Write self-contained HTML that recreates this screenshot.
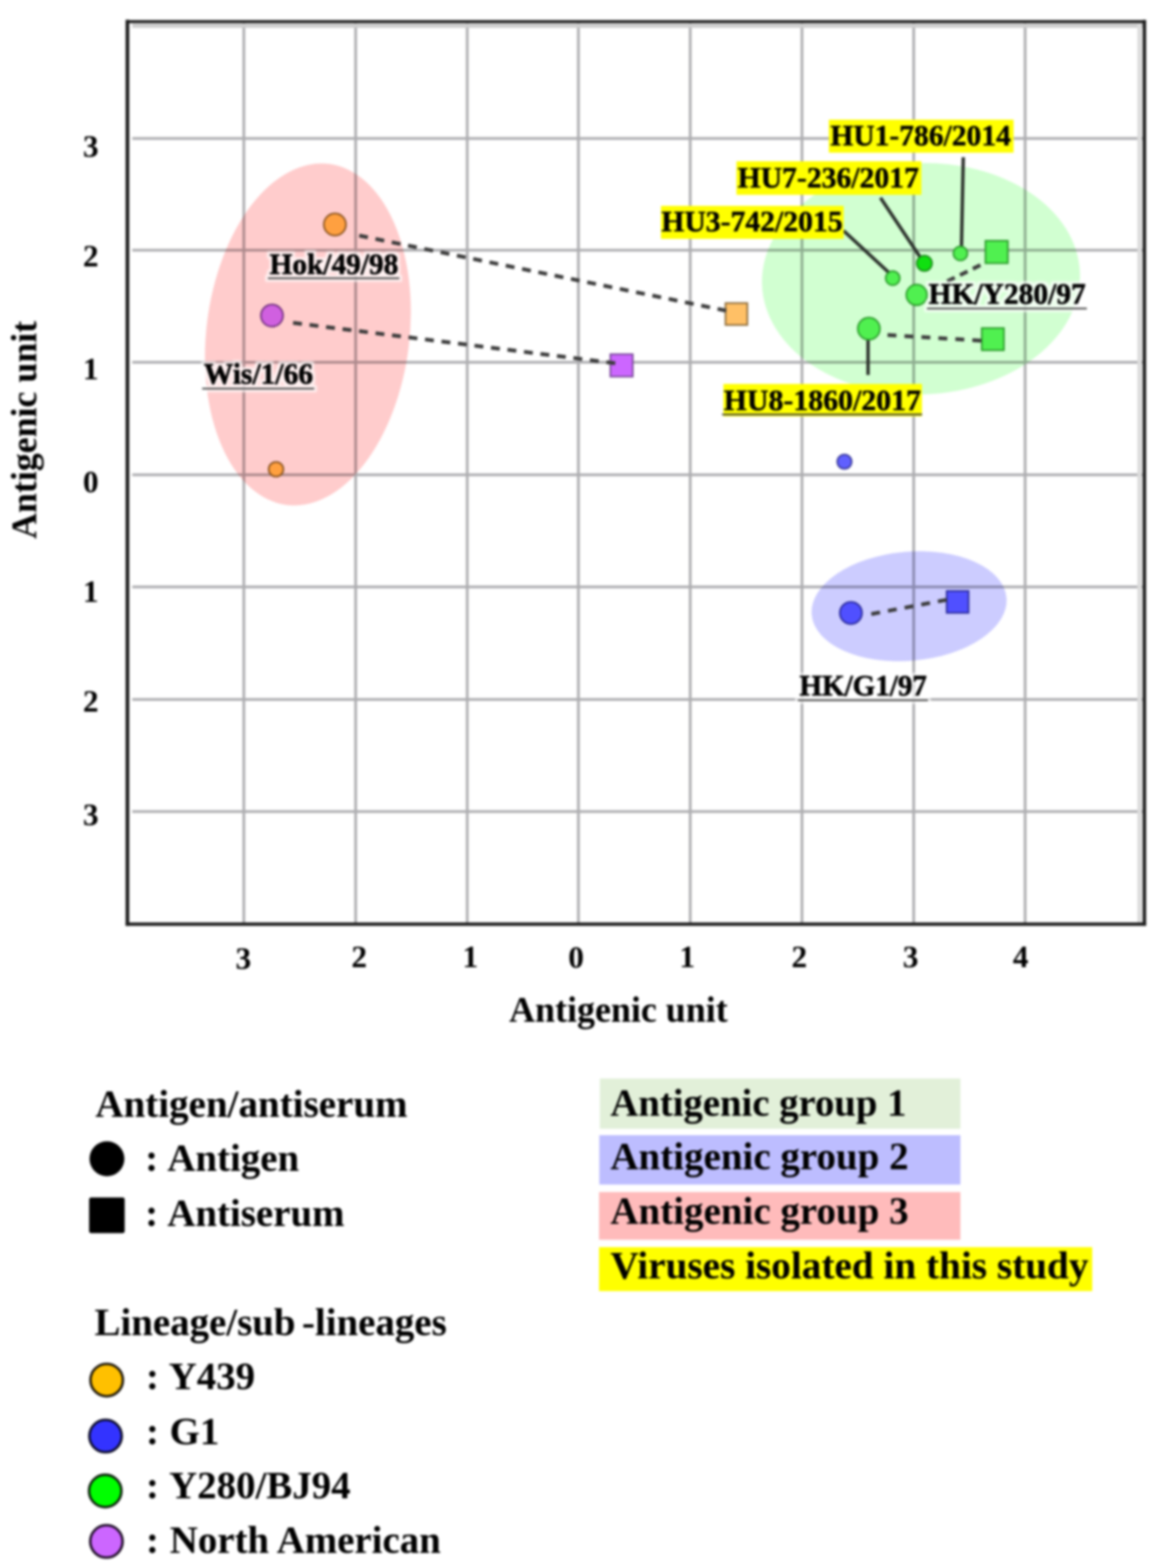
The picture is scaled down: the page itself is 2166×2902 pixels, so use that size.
<!DOCTYPE html>
<html lang="en">
<head>
<meta charset="utf-8">
<title>Antigenic map</title>
<style>
html, body { margin: 0; padding: 0; background: #ffffff; }
body { width: 2166px; height: 2902px; overflow: hidden; }
svg { display: block; filter: blur(1.9px); }
</style>
</head>
<body>
<svg width="2166" height="2902" viewBox="0 0 2166 2902">
<rect x="-20" y="-20" width="2206" height="2942" fill="#ffffff"/>
<defs>
<filter id="halo" x="-10%" y="-30%" width="120%" height="160%" color-interpolation-filters="sRGB">
<feMorphology in="SourceAlpha" operator="dilate" radius="4.5" result="d"/>
<feGaussianBlur in="d" stdDeviation="1.5" result="b"/>
<feFlood flood-color="#ffffff" flood-opacity="0.72"/>
<feComposite in2="b" operator="in" result="h"/>
<feMerge><feMergeNode in="h"/><feMergeNode in="SourceGraphic"/></feMerge>
</filter>
</defs>
<!-- grid -->
<g stroke="#adadb0" stroke-width="5" fill="none">
<line x1="451.4" y1="40" x2="451.4" y2="1710"/>
<line x1="658.4" y1="40" x2="658.4" y2="1710"/>
<line x1="865" y1="40" x2="865" y2="1710"/>
<line x1="1070.8" y1="40" x2="1070.8" y2="1710"/>
<line x1="1277.8" y1="40" x2="1277.8" y2="1710"/>
<line x1="1484.7" y1="40" x2="1484.7" y2="1710"/>
<line x1="1691.5" y1="40" x2="1691.5" y2="1710"/>
<line x1="1897.8" y1="40" x2="1897.8" y2="1710"/>
<line x1="244.9" y1="256.2" x2="2118.6" y2="256.2"/>
<line x1="244.9" y1="463" x2="2118.6" y2="463"/>
<line x1="244.9" y1="670.5" x2="2118.6" y2="670.5"/>
<line x1="244.9" y1="878.7" x2="2118.6" y2="878.7"/>
<line x1="244.9" y1="1086.3" x2="2118.6" y2="1086.3"/>
<line x1="244.9" y1="1294.4" x2="2118.6" y2="1294.4"/>
<line x1="244.9" y1="1502" x2="2118.6" y2="1502"/>
</g>
<line x1="244.9" y1="47.6" x2="2118.6" y2="47.6" stroke="#cdcdcd" stroke-width="8"/>
<line x1="2109.6" y1="40" x2="2109.6" y2="1710" stroke="#dcdcdc" stroke-width="8"/>
<!-- antigenic group ellipses -->
<ellipse cx="570" cy="619" rx="188" ry="318" transform="rotate(7 570 619)" fill="#ff9999" fill-opacity="0.5" style="mix-blend-mode:multiply"/>
<ellipse cx="1705" cy="516" rx="294.5" ry="214" transform="rotate(-2.2 1705 516)" fill="#99ff99" fill-opacity="0.45" style="mix-blend-mode:multiply"/>
<ellipse cx="1683" cy="1122" rx="181" ry="101" transform="rotate(-5 1683 1122)" fill="#9999ff" fill-opacity="0.5" style="mix-blend-mode:multiply"/>
<!-- frame -->
<g stroke="#1c1c1c" fill="none" stroke-linecap="square">
<line x1="235.9" y1="40" x2="2118.6" y2="40" stroke-width="5.6"/>
<line x1="235.9" y1="1710.4" x2="2118.6" y2="1710.4" stroke-width="6.4"/>
<line x1="235.9" y1="40" x2="235.9" y2="1710" stroke-width="6.8"/>
<line x1="2118.6" y1="40" x2="2118.6" y2="1710" stroke-width="6.4"/>
</g>
<!-- leader lines -->
<g stroke="#2b302b" stroke-width="6.2" fill="none">
<line x1="1783.3" y1="291" x2="1780" y2="456"/>
<line x1="1630" y1="366" x2="1703.5" y2="476"/>
<line x1="1561.7" y1="427" x2="1645" y2="504"/>
<line x1="1607" y1="627" x2="1607" y2="694"/>
</g>
<!-- data points -->
<circle cx="620" cy="415.5" r="20.5" fill="#ffa040" stroke="#86501c" stroke-width="3"/>
<circle cx="503.5" cy="584" r="20.5" fill="#d060e0" stroke="#70307e" stroke-width="3"/>
<circle cx="511" cy="868.5" r="13.6" fill="#ffa040" stroke="#86501c" stroke-width="3"/>
<rect x="1343.05" y="560.95" width="40.5" height="40.5" fill="#ffc066" stroke="#8a6a3a" stroke-width="3"/>
<rect x="1129.95" y="655.55" width="41.5" height="41.5" fill="#cc66ff" stroke="#7a4a9a" stroke-width="3"/>
<circle cx="1778" cy="469" r="13" fill="#50f050" stroke="#2a9a2a" stroke-width="3"/>
<circle cx="1711.3" cy="487.3" r="14.2" fill="#10e010" stroke="#1a8a1a" stroke-width="3"/>
<circle cx="1652.7" cy="514.8" r="13" fill="#50f050" stroke="#2a9a2a" stroke-width="3"/>
<circle cx="1697" cy="545.8" r="19.2" fill="#50f050" stroke="#2a9a2a" stroke-width="3"/>
<circle cx="1608.5" cy="608.3" r="20.5" fill="#50f050" stroke="#2a9a2a" stroke-width="3"/>
<rect x="1824.35" y="445.65" width="41.5" height="41.5" fill="#50f050" stroke="#2a9a2a" stroke-width="3"/>
<rect x="1817.5" y="607.2" width="41" height="41" fill="#50f050" stroke="#2a9a2a" stroke-width="3"/>
<circle cx="1563.3" cy="854.5" r="13.3" fill="#6060ff" stroke="#3a3a9a" stroke-width="3"/>
<circle cx="1575.3" cy="1134.4" r="20.5" fill="#5050ff" stroke="#2a2a9a" stroke-width="3"/>
<rect x="1752.55" y="1093.75" width="40.5" height="40.5" fill="#5050ff" stroke="#2a2a9a" stroke-width="3"/>
<!-- dashed connectors antigen to antiserum -->
<g stroke="#3a3a3a" stroke-width="7" fill="none">
<line x1="1344.5" y1="575" x2="665" y2="436" stroke-dasharray="16.5 14.28"/>
<line x1="1139" y1="672.3" x2="542.5" y2="597.5" stroke-dasharray="16.5 14.27"/>
<line x1="1815" y1="490.7" x2="1753.5" y2="520.7" stroke-dasharray="15.5 10.96"/>
<line x1="1816.5" y1="630.5" x2="1643" y2="620" stroke-dasharray="16.5 14.96"/>
<line x1="1752.5" y1="1110.1" x2="1613" y2="1136.5" stroke-dasharray="16.5 14.87"/>
</g>
<!-- highlighted label boxes -->
<g fill="#ffff00">
<rect x="1534.4" y="221.5" width="342" height="61"/>
<rect x="1363.4" y="298.5" width="342.3" height="62"/>
<rect x="1223.6" y="381" width="338.2" height="61"/>
<rect x="1339.2" y="710.6" width="367.6" height="60"/>
</g>
<g font-family="'Liberation Serif', 'Times New Roman', serif" font-weight="bold" fill="#000">
<text x="1537.2" y="269" font-size="55" text-anchor="start" textLength="334.2" lengthAdjust="spacingAndGlyphs" stroke="#000" stroke-width="0.7" stroke-linejoin="round">HU1-786/2014</text>
<text x="1365.4" y="346.8" font-size="55" text-anchor="start" textLength="335.9" lengthAdjust="spacingAndGlyphs" stroke="#000" stroke-width="0.7" stroke-linejoin="round">HU7-236/2017</text>
<text x="1224.2" y="427.8" font-size="55" text-anchor="start" textLength="335.8" lengthAdjust="spacingAndGlyphs" stroke="#000" stroke-width="0.7" stroke-linejoin="round">HU3-742/2015</text>
<text x="1339.8" y="759.3" font-size="55" text-anchor="start" textLength="365.2" lengthAdjust="spacingAndGlyphs" stroke="#000" stroke-width="0.7" stroke-linejoin="round">HU8-1860/2017</text>
<line x1="1336.8" y1="767.0999999999999" x2="1707" y2="767.0999999999999" stroke="#404040" stroke-width="3.1"/>
<g filter="url(#halo)">
<text x="1719" y="561.7" font-size="55" text-anchor="start" textLength="291" lengthAdjust="spacingAndGlyphs" stroke="#000" stroke-width="1" stroke-linejoin="round">HK/Y280/97</text>
<line x1="1716" y1="571.0" x2="2012" y2="571.0" stroke="#404040" stroke-width="3.1"/>
</g>
<g filter="url(#halo)">
<text x="499" y="506.5" font-size="55" text-anchor="start" textLength="238.3" lengthAdjust="spacingAndGlyphs" stroke="#000" stroke-width="1" stroke-linejoin="round">Hok/49/98</text>
<line x1="496" y1="515.0" x2="739.3" y2="515.0" stroke="#404040" stroke-width="3.1"/>
</g>
<g filter="url(#halo)">
<text x="377.3" y="710" font-size="55" text-anchor="start" textLength="202.4" lengthAdjust="spacingAndGlyphs" stroke="#000" stroke-width="1" stroke-linejoin="round">Wis/1/66</text>
<line x1="374.3" y1="719.3" x2="581.7" y2="719.3" stroke="#404040" stroke-width="3.1"/>
</g>
<g filter="url(#halo)">
<text x="1480" y="1286.5" font-size="55" text-anchor="start" textLength="236" lengthAdjust="spacingAndGlyphs" stroke="#000" stroke-width="1" stroke-linejoin="round">HK/G1/97</text>
<line x1="1477" y1="1296.0" x2="1718" y2="1296.0" stroke="#404040" stroke-width="3.1"/>
</g>
<text x="168" y="290.3" font-size="58" text-anchor="middle">3</text>
<text x="168" y="493" font-size="58" text-anchor="middle">2</text>
<text x="168" y="702.2" font-size="58" text-anchor="middle">1</text>
<text x="168" y="910.6" font-size="58" text-anchor="middle">0</text>
<text x="168" y="1113.8" font-size="58" text-anchor="middle">1</text>
<text x="168" y="1316.8" font-size="58" text-anchor="middle">2</text>
<text x="168" y="1527.2" font-size="58" text-anchor="middle">3</text>
<text x="450.4" y="1793" font-size="58" text-anchor="middle">3</text>
<text x="665.1" y="1790.2" font-size="58" text-anchor="middle">2</text>
<text x="870.8" y="1790.2" font-size="58" text-anchor="middle">1</text>
<text x="1066.5" y="1791.2" font-size="58" text-anchor="middle">0</text>
<text x="1272.2" y="1790.2" font-size="58" text-anchor="middle">1</text>
<text x="1479.7" y="1790.2" font-size="58" text-anchor="middle">2</text>
<text x="1685.8" y="1789.6" font-size="58" text-anchor="middle">3</text>
<text x="1889.4" y="1790.2" font-size="58" text-anchor="middle">4</text>
<text x="942.6" y="1891" font-size="67" text-anchor="start" textLength="404.5" lengthAdjust="spacingAndGlyphs">Antigenic unit</text>
<text transform="translate(67 997.4) rotate(-90)" font-size="67" textLength="403.5" lengthAdjust="spacingAndGlyphs">Antigenic unit</text>
<text x="176.5" y="2067" font-size="72" text-anchor="start" textLength="578" lengthAdjust="spacingAndGlyphs">Antigen/antiserum</text>
<text x="268.8" y="2167.2" font-size="72">: <tspan dx="3">Antigen</tspan></text>
<text x="268.8" y="2269" font-size="72">: <tspan dx="3">Antiserum</tspan></text>
<text x="175" y="2471" font-size="72">Lineage/sub<tspan dx="12">-lineages</tspan></text>
<text x="270.2" y="2571.3" font-size="72">: <tspan dx="2.8">Y439</tspan></text>
<text x="270.2" y="2673" font-size="72">: <tspan dx="1.9">G1</tspan></text>
<text x="270.2" y="2773.2" font-size="72">: <tspan dx="3.5">Y280/BJ94</tspan></text>
<text x="270.2" y="2874" font-size="72">: <tspan dx="2">North American</tspan></text>
</g>
<!-- legend symbols -->
<circle cx="198" cy="2144.6" r="32.3" fill="#000"/>
<rect x="165" y="2216.3" width="65.8" height="66" rx="4" fill="#000"/>
<circle cx="197.5" cy="2554.2" r="30" fill="#ffc000" stroke="#1a1408" stroke-width="4.6"/>
<circle cx="195.4" cy="2657.8" r="30" fill="#3333ff" stroke="#0c0c28" stroke-width="4.6"/>
<circle cx="194.8" cy="2759.4" r="30" fill="#00ff00" stroke="#0c200c" stroke-width="4.6"/>
<circle cx="197" cy="2852.8" r="30" fill="#cc66ff" stroke="#1c0c24" stroke-width="4.6"/>
<!-- legend right -->
<rect x="1110.5" y="1996" width="667.5" height="93" fill="#e2f0d9"/>
<rect x="1109.5" y="2101" width="668.5" height="91.3" fill="#bdbdff"/>
<rect x="1109" y="2206.2" width="669" height="88.3" fill="#ffbbbb"/>
<rect x="1109" y="2308.2" width="913" height="81.3" fill="#ffff00"/>
<g font-family="'Liberation Serif', 'Times New Roman', serif" font-weight="bold" fill="#000">
<text x="1130" y="2064.5" font-size="72" text-anchor="start" textLength="548" lengthAdjust="spacingAndGlyphs">Antigenic group 1</text>
<text x="1130" y="2164.3" font-size="72" text-anchor="start" textLength="552" lengthAdjust="spacingAndGlyphs">Antigenic group 2</text>
<text x="1130" y="2265.4" font-size="72" text-anchor="start" textLength="552" lengthAdjust="spacingAndGlyphs">Antigenic group 3</text>
<text x="1130" y="2366.3" font-size="72" text-anchor="start" textLength="885" lengthAdjust="spacingAndGlyphs">Viruses isolated in this study</text>
</g>
</svg>
</body>
</html>
